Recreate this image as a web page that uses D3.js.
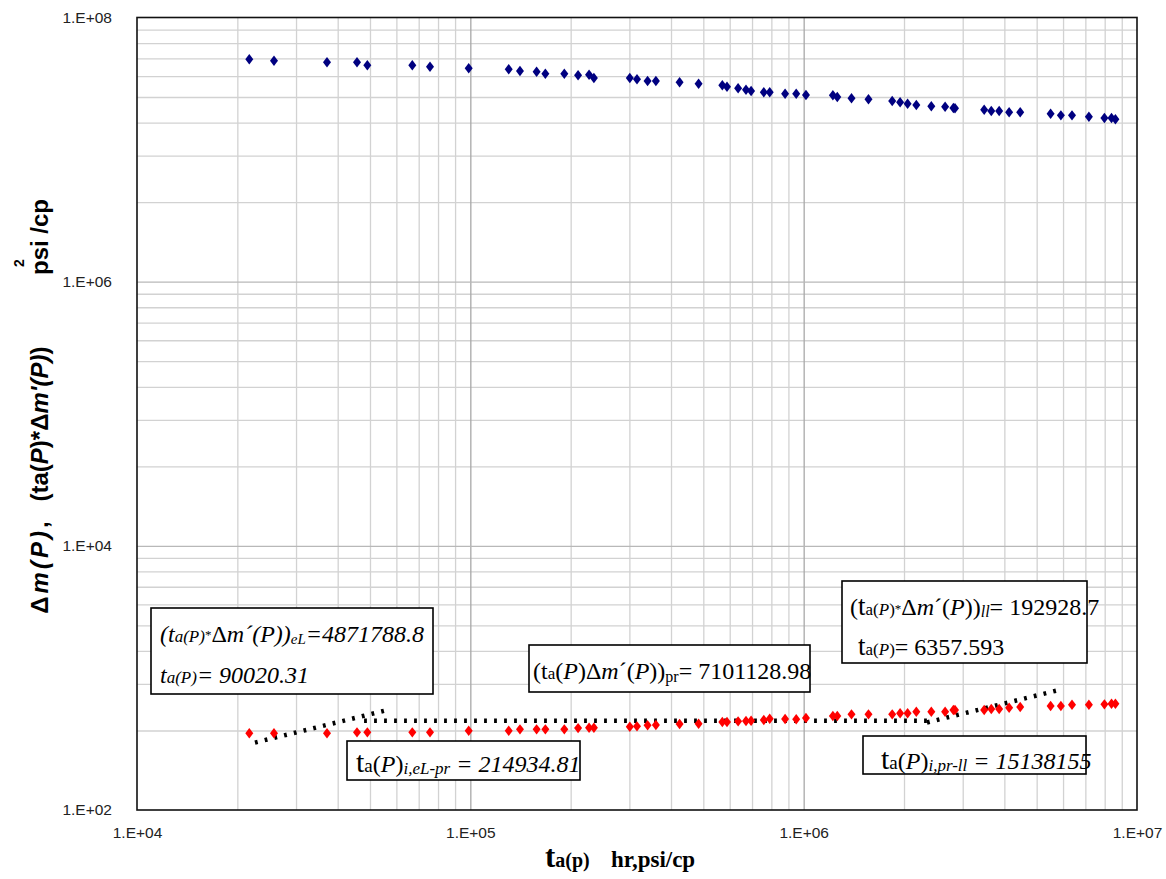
<!DOCTYPE html>
<html>
<head>
<meta charset="utf-8">
<script src="https://cdn.jsdelivr.net/npm/d3@7"></script>
<style>
  body { margin: 0; background: #fff; }
  svg { display: block; }
</style>
</head>
<body>
<svg id="chart" width="1166" height="879"></svg>
<script>
// ---- axis ticks ----
const xTicks = [1e4, 1e5, 1e6, 1e7];
const xTickLabels = ["1.E+04", "1.E+05", "1.E+06", "1.E+07"];
const yTicks = [1e2, 1e4, 1e6, 1e8];
const yTickLabels = ["1.E+02", "1.E+04", "1.E+06", "1.E+08"];

// ---- pseudo-time t_a(P), hr·psi/cp ----
const timeValues = [
  21720, 25760, 37150, 45710, 49090, 66970, 75680, 98880, 130360, 140900,
  158050, 167900, 191400, 210500, 227100, 234800, 300900, 316200, 340200, 360300,
  424400, 483900, 570100, 588800, 635800, 671400, 695500, 759300, 790900, 879600,
  949800, 1016000, 1223700, 1261500, 1391500, 1564700, 1843400, 1946800, 2050200, 2177400,
  2414900, 2656600, 2813200, 2844500, 3479500, 3654500, 3859300, 4133600, 4462700, 5505500,
  5910800, 6382600, 7172900, 7983800, 8385900, 8614000
];

// ---- pseudo-pressure drop Δm(P), psi²/cp ----
const deltaM = [
  4.826e7, 4.709e7, 4.580e7, 4.580e7, 4.346e7, 4.346e7, 4.241e7, 4.125e7, 4.053e7, 3.934e7,
  3.887e7, 3.754e7, 3.754e7, 3.650e7, 3.688e7, 3.483e7, 3.483e7, 3.405e7, 3.306e7, 3.306e7,
  3.232e7, 3.154e7, 3.067e7, 2.994e7, 2.911e7, 2.841e7, 2.777e7, 2.715e7, 2.715e7, 2.650e7,
  2.650e7, 2.590e7, 2.576e7, 2.501e7, 2.444e7, 2.403e7, 2.332e7, 2.280e7, 2.225e7, 2.175e7,
  2.126e7, 2.111e7, 2.064e7, 2.055e7, 2.003e7, 1.959e7, 1.959e7, 1.915e7, 1.915e7, 1.869e7,
  1.817e7, 1.817e7, 1.773e7, 1.734e7, 1.734e7, 1.695e7
];

// ---- pressure derivative t_a(P)*Δm'(P), psi²/cp ----
const derivative = [
  381, 381, 381, 387, 387, 387, 387, 398, 398, 408,
  408, 408, 408, 417, 420, 420, 427, 430, 438, 440,
  448, 450, 464, 464, 469, 472, 474, 480, 491, 488,
  486, 497, 515, 515, 530, 530, 530, 540, 540, 555,
  555, 555, 571, 571, 571, 581, 581, 595, 602, 613,
  613, 627, 627, 631, 638, 638
];

// ---- straight-line flow regimes drawn through the derivative ----
const earlyLinearTrend = [[22590, 324], [57420, 578]];
const pseudoRadialTrend = [[48000, 474], [2443000, 474]];
const lateLinearTrend = [[2344000, 460], [5916000, 817]];

// ---- layout ----
const plot = { left: 137, right: 1137, top: 17.5, bottom: 810 };
const svg = d3.select("#chart");

const x = d3.scaleLog().domain([1e4, 1e7]).range([plot.left, plot.right]);
const y = d3.scaleLog().domain([1e2, 1e8]).range([plot.bottom, plot.top]);

// minor grid: 2..9 per decade on x; the y axis uses base-100 majors,
// so its minor lines sit at k² multiples of each major
const xMinor = [];
[1e4, 1e5, 1e6].forEach(b => { for (let k = 2; k <= 9; k++) xMinor.push(b * k); });
const yMinor = [];
[1e2, 1e4, 1e6].forEach(b => { for (let k = 2; k <= 9; k++) yMinor.push(b * k * k); });

const H = plot.bottom - plot.top, W = plot.right - plot.left;

function grid(axis, values, color, width, transform) {
  const g = svg.append("g").attr("transform", transform)
    .call(axis.tickValues(values).tickFormat("").tickSizeOuter(0));
  g.select(".domain").remove();
  g.selectAll(".tick line").attr("stroke", color).attr("stroke-width", width);
  return g;
}

grid(d3.axisBottom(x).tickSize(-H), xMinor, "#d2d2d2", 1.3, `translate(0,${plot.bottom})`);
grid(d3.axisLeft(y).tickSize(-W), yMinor, "#d2d2d2", 1.3, `translate(${plot.left},0)`);
grid(d3.axisBottom(x).tickSize(-H), [1e5, 1e6], "#a8a8a8", 1.3, `translate(0,${plot.bottom})`);
grid(d3.axisLeft(y).tickSize(-W), [1e4, 1e6], "#b8b8b8", 1.3, `translate(${plot.left},0)`);

// plot frame
svg.append("rect")
  .attr("x", plot.left).attr("y", plot.top)
  .attr("width", W).attr("height", H)
  .attr("fill", "none").attr("stroke", "#111").attr("stroke-width", 1.6);

// tick labels
const xAxis = svg.append("g").attr("transform", `translate(0,${plot.bottom})`)
  .call(d3.axisBottom(x).tickValues(xTicks)
    .tickFormat((d, i) => xTickLabels[i]).tickSize(0).tickPadding(17));
xAxis.select(".domain").remove();
xAxis.selectAll("text").attr("font-family", "Liberation Sans, Arial, sans-serif")
  .attr("font-size", 15.5).attr("fill", "#222");

const yAxis = svg.append("g").attr("transform", `translate(${plot.left},0)`)
  .call(d3.axisLeft(y).tickValues(yTicks)
    .tickFormat((d, i) => yTickLabels[i]).tickSize(0).tickPadding(25));
yAxis.select(".domain").remove();
yAxis.selectAll("text").attr("font-family", "Liberation Sans, Arial, sans-serif")
  .attr("font-size", 15.5).attr("fill", "#222");

// dotted trend lines
const line = d3.line().x(d => x(d[0])).y(d => y(d[1]));
[earlyLinearTrend, pseudoRadialTrend, lateLinearTrend].forEach(seg => {
  svg.append("path").datum(seg).attr("d", line)
    .attr("fill", "none").attr("stroke", "#000")
    .attr("stroke-width", 4.5).attr("stroke-dasharray", "2.8 7.2");
});

// diamond markers
const diamond = "M0,-5.2L4,0L0,5.2L-4,0Z";
svg.append("g").selectAll("path").data(timeValues).join("path")
  .attr("d", diamond)
  .attr("transform", (d, i) => `translate(${x(d)},${y(deltaM[i])})`)
  .attr("fill", "#000080");
svg.append("g").selectAll("path").data(timeValues).join("path")
  .attr("d", diamond)
  .attr("transform", (d, i) => `translate(${x(d)},${y(derivative[i])})`)
  .attr("fill", "#ff0000");

// ---- annotation boxes ----
const SERIF = "Liberation Serif, Times New Roman, serif";
function richLine(parent, x0, y0, segs) {
  const t = parent.append("text").attr("x", x0).attr("y", y0)
    .attr("font-family", SERIF).attr("fill", "#000");
  let shift = 0;
  segs.forEach(s => {
    const sh = s.sh || 0;
    t.append("tspan").attr("dy", sh - shift)
      .attr("font-size", s.s || 24)
      .attr("font-style", s.i ? "italic" : "normal")
      .text(s.t);
    shift = sh;
  });
  return t;
}
function box(x0, y0, w, h, lines) {
  const g = svg.append("g");
  g.append("rect").attr("x", x0).attr("y", y0).attr("width", w).attr("height", h)
    .attr("fill", "#fff").attr("stroke", "#000").attr("stroke-width", 1.6);
  lines.forEach(l => richLine(g, l.x, l.y, l.segs));
}

box(151, 608, 282, 86, [
  { x: 160, y: 642, segs: [
    { t: "(", i: true }, { t: "t", i: true }, { t: "a(P)", s: 17, i: true },
    { t: "*", s: 13, sh: -3 }, { t: "Δ", sh: 0 }, { t: "m", i: true }, { t: "´(P))", i: true },
    { t: "eL", s: 15, i: true, sh: 2 }, { t: "=4871788.8", i: true } ] },
  { x: 160, y: 683, segs: [
    { t: "t", i: true }, { t: "a(P)", s: 17, i: true }, { t: "= 90020.31", i: true } ] }
]);

box(529, 645, 281, 47, [
  { x: 533, y: 679, segs: [
    { t: "(" }, { t: "t" }, { t: "a", s: 17 }, { t: "(" }, { t: "P", i: true }, { t: ")" },
    { t: "Δ" }, { t: "m", i: true }, { t: "´(" }, { t: "P", i: true }, { t: "))" },
    { t: "pr", s: 16, sh: 3 }, { t: "= 7101128.98" } ] }
]);

box(347, 741, 233, 39, [
  { x: 356, y: 772, segs: [
    { t: "t", s: 30 }, { t: "a", s: 19 }, { t: "(" }, { t: "P", i: true }, { t: ")" },
    { t: "i,eL-pr", s: 17, i: true, sh: 2 }, { t: " = 214934.81", i: true } ] }
]);

box(842, 581, 245, 82, [
  { x: 850, y: 615, segs: [
    { t: "(" }, { t: "t", s: 27 }, { t: "a(", s: 17 }, { t: "P", s: 17, i: true }, { t: ")", s: 17 },
    { t: "*", s: 13, sh: -2 }, { t: "Δ", sh: 0 }, { t: "m", i: true }, { t: "´(" }, { t: "P", i: true },
    { t: "))" }, { t: "ll", s: 16, i: true, sh: 2 }, { t: "= 192928.7" } ] },
  { x: 858, y: 655, segs: [
    { t: "t", s: 27 }, { t: "a(", s: 17 }, { t: "P", s: 17, i: true }, { t: ")", s: 17 },
    { t: "= 6357.593" } ] }
]);

box(863, 736, 223, 38, [
  { x: 881, y: 769, segs: [
    { t: "t", s: 30 }, { t: "a", s: 19 }, { t: "(" }, { t: "P", i: true }, { t: ")" },
    { t: "i,pr-ll", s: 17, i: true, sh: 2 }, { t: " = 15138155", i: true } ] }
]);

// ---- axis titles ----
const xt = svg.append("text").attr("x", 545).attr("y", 867)
  .attr("font-family", SERIF).attr("font-weight", "bold").attr("fill", "#000");
xt.append("tspan").attr("font-size", 31).text("t");
xt.append("tspan").attr("font-size", 20).text("a(p)");
xt.append("tspan").attr("x", 611).attr("font-size", 23).text("hr,psi/cp");

const SANS = "Liberation Sans, Arial, sans-serif";
function yTitle(cy, segs, spacing) {
  const t = svg.append("text")
    .attr("transform", `translate(48,${cy}) rotate(-90)`)
    .attr("text-anchor", "middle")
    .attr("font-family", SANS).attr("font-weight", "bold").attr("font-size", 24)
    .attr("letter-spacing", spacing || 0)
    .attr("fill", "#000");
  segs.forEach(s => t.append("tspan").attr("font-style", s.i ? "italic" : "normal").text(s.t));
}
yTitle(566, [{ t: "Δ" }, { t: "m(P)", i: true }, { t: "," }], 3);
yTitle(424, [{ t: "(ta(" }, { t: "P", i: true }, { t: ")*Δ" }, { t: "m'(P)", i: true }, { t: ")" }]);
yTitle(237, [{ t: "psi /cp" }]);
svg.append("text")
  .attr("transform", "translate(24,263) rotate(-90)")
  .attr("text-anchor", "middle")
  .attr("font-family", SANS).attr("font-weight", "bold").attr("font-size", 14)
  .text("2");
</script>
</body>
</html>
